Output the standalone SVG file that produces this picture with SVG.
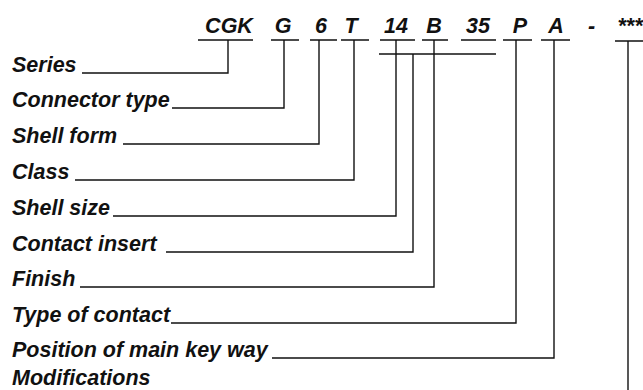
<svg xmlns="http://www.w3.org/2000/svg" width="643" height="390" viewBox="0 0 643 390">
<style>
text{font-family:"Liberation Sans",Arial,sans-serif;font-weight:bold;font-style:italic;font-size:21.5px;fill:#111}
.c{text-anchor:middle}
.l{fill:none;stroke:#111;stroke-width:1.4}
</style>
<rect width="643" height="390" fill="#fff"/>
<g id="code">
<text id="code-cgk" class="c" x="229" y="33">CGK</text>
<text id="code-g" class="c" x="283" y="33">G</text>
<text id="code-6" class="c" x="321" y="33">6</text>
<text id="code-t" class="c" x="351" y="33">T</text>
<text id="code-14" class="c" x="396" y="33">14</text>
<text id="code-b" class="c" x="434" y="33">B</text>
<text id="code-35" class="c" x="478" y="33">35</text>
<text id="code-p" class="c" x="520" y="33">P</text>
<text id="code-a" class="c" x="556" y="33">A</text>
<text id="code-dash" class="c" x="591.5" y="33">-</text>
<text id="code-mod" class="c" x="630" y="33">***</text>
</g>
<g id="labels">
<g id="series"><text x="12" y="72">Series</text></g>
<g id="connector-type"><text x="12" y="107">Connector type</text></g>
<g id="shell-form"><text x="12" y="143">Shell form</text></g>
<g id="class"><text x="12" y="179">Class</text></g>
<g id="shell-size"><text x="12" y="215">Shell size</text></g>
<g id="contact-insert"><text x="12" y="251">Contact insert</text></g>
<g id="finish"><text x="12" y="286">Finish</text></g>
<g id="type-of-contact"><text x="12" y="322">Type of contact</text></g>
<g id="key-way"><text x="12" y="357">Position of main key way</text></g>
<g id="modifications"><text x="12" y="385">Modifications</text></g>
</g>
<g id="connectors" class="l">
<path d="M198 40H253M271 40H299M310 40H337M341 40H369M380 40H415M422 40H448M461 40H496M503 40H532M541 40H570M615 41H643"/>
<path d="M379 54H496"/>
<path d="M82 73H228V40"/>
<path d="M172 108H284V40"/>
<path d="M123 144H319V40"/>
<path d="M75 180H354V40"/>
<path d="M113 216H396V40"/>
<path d="M166 252H413V54"/>
<path d="M80 287H434V40"/>
<path d="M171 323H516V40"/>
<path d="M272 358H554V40"/>
<path d="M628 41V390"/>
</g>
</svg>
